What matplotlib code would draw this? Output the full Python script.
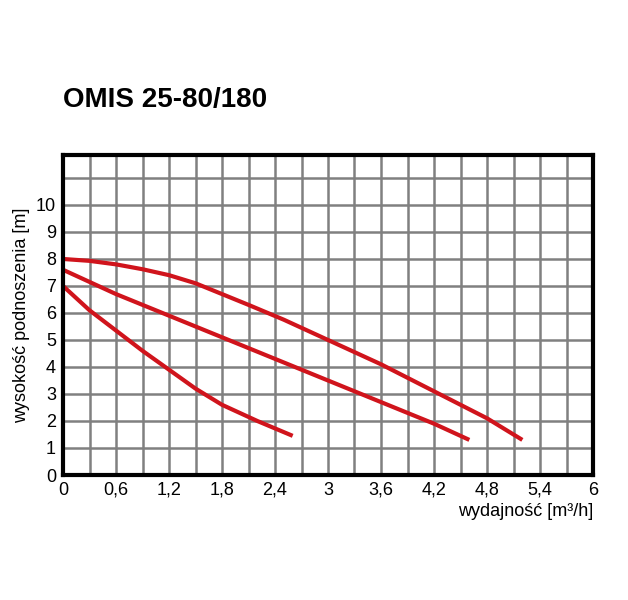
import matplotlib
matplotlib.use("Agg")
import matplotlib.pyplot as plt
import numpy as np

plt.rcParams['font.family'] = ['Liberation Sans', 'DejaVu Sans']

title = "OMIS 25-80/180"
x1 = [0, 0.3, 0.6, 0.9, 1.2, 1.5, 1.8, 2.1, 2.5, 3.0, 3.6, 4.2, 4.8, 5.2]
y1 = [8.0, 7.93, 7.8, 7.62, 7.4, 7.1, 6.7, 6.3, 5.75, 5.0, 4.1, 3.1, 2.1, 1.3]
x2 = [0, 0.6, 1.2, 1.8, 2.4, 3.0, 3.6, 4.2, 4.6]
y2 = [7.6, 6.7, 5.9, 5.1, 4.3, 3.5, 2.7, 1.9, 1.3]
x3 = [0, 0.3, 0.6, 0.9, 1.2, 1.5, 1.8, 2.2, 2.6]
y3 = [7.0, 6.1, 5.35, 4.6, 3.9, 3.2, 2.6, 2.0, 1.45]
xticklabels = ["0", "0,6", "1,2", "1,8", "2,4", "3", "3,6", "4,2", "4,8", "5,4", "6"]
yticklabels = [str(i) for i in range(11)]

fig = plt.figure(figsize=(6.28, 6.0), dpi=100)
ax = fig.add_axes([63/628, 125/600, 530/628, 320/600])
for xs, ys in [(x1, y1), (x2, y2), (x3, y3)]:
    ax.plot(xs, ys, color="#d0141c", lw=3, solid_capstyle="butt")
ax.set_xlim(0, 6)
ax.set_ylim(0, 11.85)
ax.set_xticks(np.arange(0, 6.01, 0.3), minor=True)
ax.set_xticks(np.arange(0, 6.01, 0.6))
ax.set_xticklabels(xticklabels, fontsize=13)
ax.set_yticks(range(0, 12))
ax.set_yticklabels(yticklabels + [""], fontsize=13)
ax.grid(True, which="both", color="#808080", lw=1.8)
ax.tick_params(length=0, pad=5, which="both")
for s in ax.spines.values():
    s.set_linewidth(3)
    s.set_color("black")
ax.set_ylabel("wysokość podnoszenia [m]", fontsize=13)
ax.set_xlabel("wydajność [m³/h]", fontsize=13, loc="right", labelpad=3)
fig.text(63/628, 1-100/600, title, fontsize=20, fontweight="bold", va="center")
fig.savefig("out.png")
